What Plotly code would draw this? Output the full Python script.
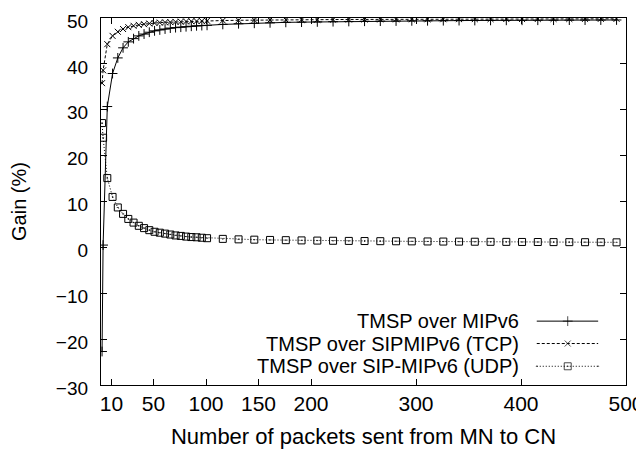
import plotly.graph_objects as go

# ---- data ----
packets = [1, 2, 6, 11, 16, 21, 26, 31, 36, 41, 46, 51, 56, 61, 66, 71, 76, 81, 86, 91, 96, 101,
           116, 131, 146, 161, 176, 191, 206, 221, 236, 251, 266, 281, 296, 311, 326, 341, 356,
           371, 386, 401, 416, 431, 446, 461, 476, 491]

gain_mipv6 = [-22.7, 0.5, 30.7, 37.9, 41.3, 43.5, 44.8, 45.5, 46.1, 46.5, 46.9, 47.2, 47.4, 47.6,
              47.8, 47.9, 48.0, 48.1, 48.2, 48.3, 48.35, 48.4,
              48.6, 48.75, 48.85, 48.95, 49.05, 49.1, 49.15, 49.2, 49.25, 49.3, 49.32, 49.35,
              49.38, 49.4, 49.42, 49.44, 49.46, 49.48, 49.5, 49.51, 49.52, 49.53, 49.54, 49.55,
              49.56, 49.57]

gain_sip_tcp = [35.8, 38.6, 44.3, 46.1, 47.0, 47.6, 48.0, 48.3, 48.5, 48.65, 48.8, 48.9, 49.0,
                49.05, 49.1, 49.15, 49.2, 49.25, 49.3, 49.32, 49.35, 49.4,
                49.45, 49.5, 49.55, 49.58, 49.6, 49.62, 49.64, 49.66, 49.68, 49.69, 49.7, 49.71,
                49.72, 49.73, 49.74, 49.75, 49.76, 49.77, 49.78, 49.78, 49.79, 49.8, 49.8, 49.81,
                49.82, 49.82]

gain_sip_udp = [27.1, 23.9, 15.1, 11.0, 8.7, 7.3, 6.2, 5.4, 4.7, 4.2, 3.75, 3.4, 3.2, 3.0, 2.8,
                2.6, 2.5, 2.35, 2.25, 2.2, 2.1, 2.0,
                1.85, 1.75, 1.68, 1.62, 1.57, 1.52, 1.48, 1.44, 1.41, 1.38, 1.35, 1.33, 1.31,
                1.29, 1.27, 1.25, 1.23, 1.21, 1.2, 1.18, 1.17, 1.15, 1.14, 1.13, 1.12, 1.1]

series_names = ["TMSP over MIPv6", "TMSP over SIPMIPv6 (TCP)", "TMSP over SIP-MIPv6 (UDP)"]
x_tick_vals = [10, 50, 100, 150, 200, 300, 400, 500]
y_tick_vals = [-30, -20, -10, 0, 10, 20, 30, 40, 50]

# ---- styles ----
FONT = "Liberation Sans, Arial, Helvetica, sans-serif"
styles = [
    dict(dash="solid", symbol="cross-thin-open", size=7),
    dict(dash="3px,2px", symbol="x-thin-open", size=6),
    dict(dash="1px,2px", symbol="square-open-dot", size=7),
]
series = [gain_mipv6, gain_sip_tcp, gain_sip_udp]

fig = go.Figure()
for name, ys, st in zip(series_names, series, styles):
    fig.add_trace(go.Scatter(
        x=packets, y=ys, name=name, mode="lines+markers",
        line=dict(color="black", width=1, dash=st["dash"]),
        marker=dict(symbol=st["symbol"], size=st["size"], color="black",
                    line=dict(color="black", width=1)),
        showlegend=False,
    ))

# custom gnuplot-style key (text on left, sample on right)
row_y = [0.174, 0.113, 0.051]
for name, st, ry in zip(series_names, styles, row_y):
    fig.add_trace(go.Scatter(
        x=[0.830, 0.889, 0.947], y=[ry, ry, ry], xaxis="x2", yaxis="y2",
        mode="lines+markers",
        line=dict(color="black", width=1, dash=st["dash"]),
        marker=dict(symbol=st["symbol"], size=[0, st["size"], 0], color="black",
                    line=dict(color="black", width=1)),
        showlegend=False, hoverinfo="skip",
    ))
    fig.add_annotation(x=0.800, y=ry, xref="paper", yref="paper", text=name,
                       showarrow=False, xanchor="right", yanchor="middle",
                       font=dict(family=FONT, size=20, color="black"))

axis_common = dict(showline=True, linecolor="black", linewidth=1.3, mirror="ticks",
                   ticks="inside", ticklen=6, tickwidth=1, tickcolor="black",
                   showgrid=False, zeroline=False, automargin=False,
                   ticklabeloverflow="allow")

# page body has an 8px margin, so the figure is offset to compensate
fig.update_layout(
    width=636, height=451,
    margin=dict(l=93, r=18, t=10, b=74),
    paper_bgcolor="white", plot_bgcolor="white",
    showlegend=False,
    xaxis=dict(range=[0, 500], tickvals=x_tick_vals, ticklabelstandoff=0,
               tickfont=dict(family=FONT, size=21, color="black"),
               title=dict(text="Number of packets sent from MN to CN", standoff=14,
                          font=dict(family=FONT, size=22, color="black")),
               **axis_common),
    yaxis=dict(range=[-30, 50], tickvals=y_tick_vals, ticklabelstandoff=8,
               ticklabelshift=3,
               tickfont=dict(family=FONT, size=19, color="black"),
               title=dict(text="Gain (%)", standoff=24,
                          font=dict(family=FONT, size=20, color="black")),
               **axis_common),
    xaxis2=dict(overlaying="x", range=[0, 1], visible=False),
    yaxis2=dict(overlaying="y", range=[0, 1], visible=False),
)

fig.write_html("out.html")
